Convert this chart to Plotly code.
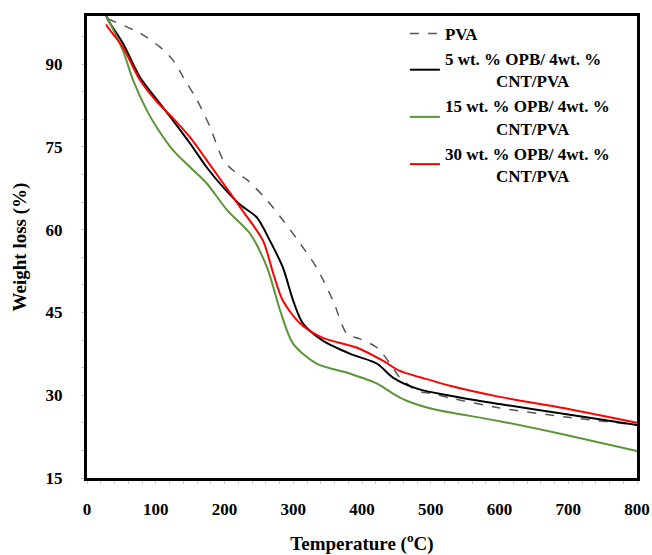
import plotly.graph_objects as go

pva_x = [30, 77, 106, 125, 140, 160, 179, 198, 212, 233, 262, 285, 310, 334, 358, 378, 397, 422, 441, 455, 480, 503, 528, 600, 700, 800]
pva_y = [98.2, 95.6, 93.1, 90.7, 87.6, 83.5, 78.6, 72.6, 70.8, 69.0, 65.3, 61.7, 57.5, 53.1, 47.1, 41.1, 40.2, 38.6, 35.7, 33.2, 30.8, 30.3, 29.5, 27.7, 26.0, 24.6]

b5_x = [28, 30.5, 52, 77, 102, 125, 150, 174, 198, 222, 247, 266, 285, 300, 314, 343, 383, 422, 445, 480, 528, 600, 700, 800]
b5_y = [98.8, 98.0, 93.8, 87.6, 83.5, 79.8, 75.6, 71.3, 67.7, 64.6, 62.2, 58.0, 53.1, 47.1, 43.0, 39.9, 37.5, 35.7, 33.2, 31.2, 29.9, 28.4, 26.5, 24.6]

g15_x = [28, 52, 67, 87, 102, 125, 150, 174, 204, 237, 262, 281, 300, 334, 383, 422, 445, 465, 503, 600, 700, 800]
g15_y = [98.8, 92.5, 87.1, 81.6, 78.4, 74.4, 71.3, 68.4, 63.5, 59.3, 53.1, 45.3, 39.3, 35.7, 33.9, 32.1, 30.3, 29.0, 27.5, 25.3, 22.7, 19.9]

r30_x = [28, 30, 52, 77, 102, 125, 150, 174, 198, 227, 256, 271, 285, 310, 343, 393, 431, 455, 503, 528, 600, 700, 800]
r30_y = [97.2, 96.7, 93.1, 87.1, 83.1, 80.2, 76.7, 72.6, 68.4, 63.3, 58.0, 52.0, 47.1, 43.0, 40.4, 38.6, 36.2, 34.4, 32.6, 31.7, 29.7, 27.5, 25.0]

pad = "&nbsp;" * 12
names = [
    "PVA",
    "5 wt. % OPB/ 4wt. %<br>" + pad + "CNT/PVA",
    "15 wt. % OPB/ 4wt. %<br>" + pad + "CNT/PVA",
    "30 wt. % OPB/ 4wt. %<br>" + pad + "CNT/PVA",
]

x_ticks = [0, 100, 200, 300, 400, 500, 600, 700, 800]
y_ticks = [15, 30, 45, 60, 75, 90]

FONT = "Liberation Serif"

fig = go.Figure()
fig.add_trace(go.Scatter(x=pva_x, y=pva_y, mode="lines", name=names[0],
                         line=dict(color="#555555", width=1.5, dash="dash", shape="spline", smoothing=0.7)))
fig.add_trace(go.Scatter(x=b5_x, y=b5_y, mode="lines", name=names[1],
                         line=dict(color="#000000", width=2, shape="spline", smoothing=0.8)))
fig.add_trace(go.Scatter(x=g15_x, y=g15_y, mode="lines", name=names[2],
                         line=dict(color="#5e9438", width=2, shape="spline", smoothing=0.8)))
fig.add_trace(go.Scatter(x=r30_x, y=r30_y, mode="lines", name=names[3],
                         line=dict(color="#ff0000", width=2, shape="spline", smoothing=0.8)))

fig.update_layout(
    width=652, height=555,
    margin=dict(l=87, r=15, t=16, b=77),
    paper_bgcolor="white", plot_bgcolor="white",
    font=dict(family=FONT, color="black"),
    showlegend=True,
    legend=dict(x=0.578, y=1.0, xanchor="left", yanchor="top",
                bgcolor="rgba(0,0,0,0)",
                font=dict(family=FONT, size=17, color="black", weight="bold"),
                tracegroupgap=0),
    xaxis=dict(range=[0, 800], tickvals=x_ticks, ticktext=[str(v) for v in x_ticks],
               automargin=False,
               showgrid=False, zeroline=False, showline=True, linecolor="black", linewidth=3, mirror=True,
               ticks="", ticklabelstandoff=14,
               tickfont=dict(family=FONT, size=17, color="black", weight="bold"),
               minor=dict(dtick=20, ticks="outside", ticklen=3, tickcolor="#cccccc", tickwidth=1),
               title=dict(text="Temperature (<sup>o</sup>C)", standoff=26,
                          font=dict(family=FONT, size=19, color="black", weight="bold"))),
    yaxis=dict(range=[15, 98.7], tickvals=y_ticks, ticktext=[str(v) for v in y_ticks],
               automargin=False,
               showgrid=False, zeroline=False, showline=True, linecolor="black", linewidth=3, mirror=True,
               ticks="", ticklabelstandoff=18,
               tickfont=dict(family=FONT, size=17, color="black", weight="bold"),
               minor=dict(dtick=5, ticks="outside", ticklen=3, tickcolor="#cccccc", tickwidth=1),
               title=dict(text="Weight loss (%)", standoff=14,
                          font=dict(family=FONT, size=19, color="black", weight="bold"))),
)

fig.write_html("out.html")
